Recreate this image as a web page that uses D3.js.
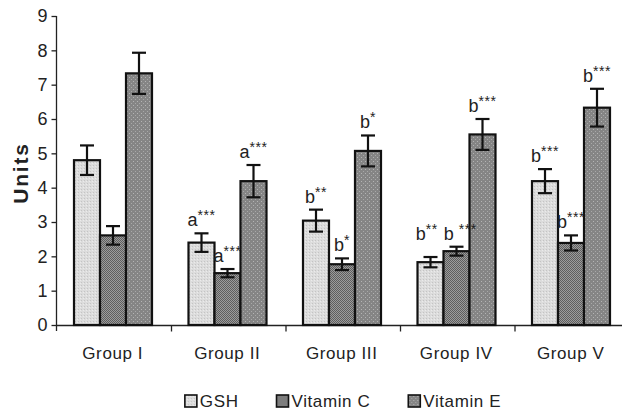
<!DOCTYPE html>
<html>
<head>
<meta charset="utf-8">
<script src="https://cdn.jsdelivr.net/npm/d3@7"></script>
<style>
  html, body { margin: 0; padding: 0; background: #fff; }
  svg { display: block; font-family: "Liberation Sans", Arial, sans-serif; }
</style>
</head>
<body>
<svg id="chart" width="622" height="410"></svg>
<script>
// ---- data ----
const groups = ["Group I", "Group II", "Group III", "Group IV", "Group V"];
const seriesNames = ["GSH", "Vitamin C", "Vitamin E"];
const gshValues = [4.80, 2.40, 3.04, 1.83, 4.19];
const vitCValues = [2.61, 1.51, 1.77, 2.15, 2.39];
const vitEValues = [7.33, 4.19, 5.07, 5.55, 6.33];
const gshErrors = [0.43, 0.27, 0.32, 0.15, 0.35];
const vitCErrors = [0.27, 0.12, 0.17, 0.13, 0.22];
const vitEErrors = [0.60, 0.47, 0.45, 0.45, 0.55];
// significance labels: [letter, stars]
const gshMarks = [null, ["a", "***"], ["b", "**"], ["b", "**"], ["b", "***"]];
const vitCMarks = [null, ["a", "***"], ["b", "*"], ["b ", "***"], ["b", "***"]];
const vitEMarks = [null, ["a", "***"], ["b", "*"], ["b", "***"], ["b", "***"]];
const yTicks = [0, 1, 2, 3, 4, 5, 6, 7, 8, 9];
const yLabel = "Units";

const seriesValues = [gshValues, vitCValues, vitEValues];
const seriesErrors = [gshErrors, vitCErrors, vitEErrors];
const seriesMarks = [gshMarks, vitCMarks, vitEMarks];

const rows = [];
groups.forEach((g, gi) => {
  seriesNames.forEach((s, si) => {
    rows.push({ group: g, gi, series: s, si, value: seriesValues[si][gi], err: seriesErrors[si][gi], mark: seriesMarks[si][gi] });
  });
});

// ---- drawing ----
const svg = d3.select("#chart");
const defs = svg.append("defs");

// patterns
const pG = defs.append("pattern").attr("id", "pat0").attr("patternUnits", "userSpaceOnUse").attr("width", 3).attr("height", 3);
pG.append("rect").attr("width", 3).attr("height", 3).attr("fill", "#dcdcdc");
pG.append("rect").attr("x", 0).attr("y", 0).attr("width", 1).attr("height", 1).attr("fill", "#c4c4c4");
pG.append("rect").attr("x", 2).attr("y", 1).attr("width", 1).attr("height", 1).attr("fill", "#ebebeb");

const pC = defs.append("pattern").attr("id", "pat1").attr("patternUnits", "userSpaceOnUse").attr("width", 2).attr("height", 2);
pC.append("rect").attr("width", 2).attr("height", 2).attr("fill", "#9c9c9c");
pC.append("rect").attr("x", 0).attr("y", 0).attr("width", 1).attr("height", 1).attr("fill", "#5e5e5e");
pC.append("rect").attr("x", 1).attr("y", 1).attr("width", 1).attr("height", 1).attr("fill", "#5e5e5e");

const pE = defs.append("pattern").attr("id", "pat2").attr("patternUnits", "userSpaceOnUse").attr("width", 4).attr("height", 4);
pE.append("rect").attr("width", 4).attr("height", 4).attr("fill", "#858585");
pE.append("rect").attr("x", 1).attr("y", 1).attr("width", 1).attr("height", 1).attr("fill", "#b4b4b4");
pE.append("rect").attr("x", 3).attr("y", 3).attr("width", 1).attr("height", 1).attr("fill", "#a8a8a8");

const fills = ["url(#pat0)", "url(#pat1)", "url(#pat2)"];

const y = d3.scaleLinear().domain([0, 9]).range([325, 16]);
const x0 = d3.scaleBand().domain(groups).range([57, 629.5]).padding(0);
const x1 = d3.scaleBand().domain(seriesNames).range([17, x0.bandwidth() - 19.5]).padding(0);

// y axis
const yAxis = d3.axisLeft(y).tickValues(yTicks).tickSize(5).tickPadding(4).tickFormat(d3.format("d"));
const gy = svg.append("g").attr("transform", "translate(56.5,0)").call(yAxis);
gy.select(".domain").attr("d", `M0,${y(9)}V331`).attr("stroke", "#222").attr("stroke-width", 1.3);
gy.selectAll(".tick line").attr("stroke", "#222").attr("stroke-width", 1.3);
gy.selectAll(".tick text").attr("font-size", 18).attr("fill", "#222").attr("font-family", "Liberation Sans, Arial, sans-serif");

// x axis
const xAxisG = svg.append("g").attr("transform", `translate(0,${y(0) + 0.5})`);
xAxisG.append("line").attr("x1", 56).attr("x2", 622).attr("y1", 0).attr("y2", 0).attr("stroke", "#222").attr("stroke-width", 1.3);
xAxisG.selectAll("line.tk").data(groups.slice(1)).join("line").attr("class", "tk")
  .attr("x1", d => x0(d)).attr("x2", d => x0(d)).attr("y1", 0).attr("y2", 6)
  .attr("stroke", "#222").attr("stroke-width", 1.3);
xAxisG.selectAll("text").data(groups).join("text")
  .attr("x", d => x0(d) + x0.bandwidth() / 2 - 1.5)
  .attr("y", 33)
  .attr("text-anchor", "middle")
  .attr("font-size", 17)
  .attr("letter-spacing", 0.6)
  .attr("fill", "#222")
  .text(d => d);

// y label
svg.append("text")
  .attr("transform", `translate(28,173) rotate(-90)`)
  .attr("text-anchor", "middle")
  .attr("font-size", 21)
  .attr("font-weight", "bold")
  .attr("letter-spacing", 1.8)
  .attr("fill", "#222")
  .text(yLabel);

// bars
const bars = svg.append("g");
bars.selectAll("rect").data(rows).join("rect")
  .attr("x", d => x0(d.group) + x1(d.series))
  .attr("y", d => y(d.value))
  .attr("width", x1.bandwidth())
  .attr("height", d => y(0) - y(d.value))
  .attr("fill", d => fills[d.si])
  .attr("stroke", "#111")
  .attr("stroke-width", 2.2);

// error bars
const eb = svg.append("g").attr("stroke", "#111").attr("stroke-width", 2.2);
rows.forEach(d => {
  const cx = x0(d.group) + x1(d.series) + x1.bandwidth() / 2;
  const capW = 7;
  eb.append("line").attr("x1", cx).attr("x2", cx).attr("y1", y(d.value + d.err)).attr("y2", y(d.value - d.err));
  eb.append("line").attr("x1", cx - capW).attr("x2", cx + capW).attr("y1", y(d.value + d.err)).attr("y2", y(d.value + d.err));
  eb.append("line").attr("x1", cx - capW).attr("x2", cx + capW).attr("y1", y(d.value - d.err)).attr("y2", y(d.value - d.err));
});

// significance labels
const lab = svg.append("g").attr("fill", "#222");
const labelNodes = [];
rows.filter(d => d.mark).forEach(d => {
  const cx = x0(d.group) + x1(d.series) + x1.bandwidth() / 2;
  const t = lab.append("text")
    .attr("x", cx)
    .attr("y", y(d.value + d.err) - 7)
    .attr("text-anchor", "middle")
    .attr("font-size", 18)
    .attr("xml:space", "preserve");
  t.append("tspan").text(d.mark[0]);
  t.append("tspan").attr("font-size", 14).attr("dy", -6).attr("letter-spacing", 0.5).text(d.mark[1]);
  labelNodes.push({ d, node: t, cx, cy: y(d.value + d.err) - 7 });
});
// resolve overlapping neighbour labels within a group
for (let i = 0; i < labelNodes.length - 1; i++) {
  const a = labelNodes[i], b = labelNodes[i + 1];
  if (a.d.gi !== b.d.gi) continue;
  const ba = a.node.node().getBBox(), bb = b.node.node().getBBox();
  const overlapX = ba.x + ba.width + 2 - bb.x;
  const overlapY = Math.min(ba.y + ba.height, bb.y + bb.height) - Math.max(ba.y, bb.y);
  if (overlapX > 0 && overlapY > 0) {
    const yy = Math.min(a.cy, b.cy);
    a.node.attr("x", a.cx - overlapX / 2 - 2).attr("y", yy);
    b.node.attr("x", b.cx + overlapX / 2 + 2).attr("y", yy);
  }
}

// legend
const legend = svg.append("g");
const items = legend.selectAll("g").data(seriesNames).join("g");
items.append("rect").attr("width", 12).attr("height", 12).attr("y", -12)
  .attr("fill", (d, i) => fills[i]).attr("stroke", "#111").attr("stroke-width", 1.6);
items.append("text").attr("x", 15).attr("y", 0).attr("font-size", 17).attr("letter-spacing", 0.6).attr("fill", "#222").text(d => d);
let widths = [];
items.each(function () { widths.push(this.getBBox().width); });
const gap = 38;
const total = d3.sum(widths) + gap * (widths.length - 1);
let cur = 343 - total / 2;
items.each(function (d, i) {
  d3.select(this).attr("transform", `translate(${cur},407)`);
  cur += widths[i] + gap;
});
</script>
</body>
</html>
